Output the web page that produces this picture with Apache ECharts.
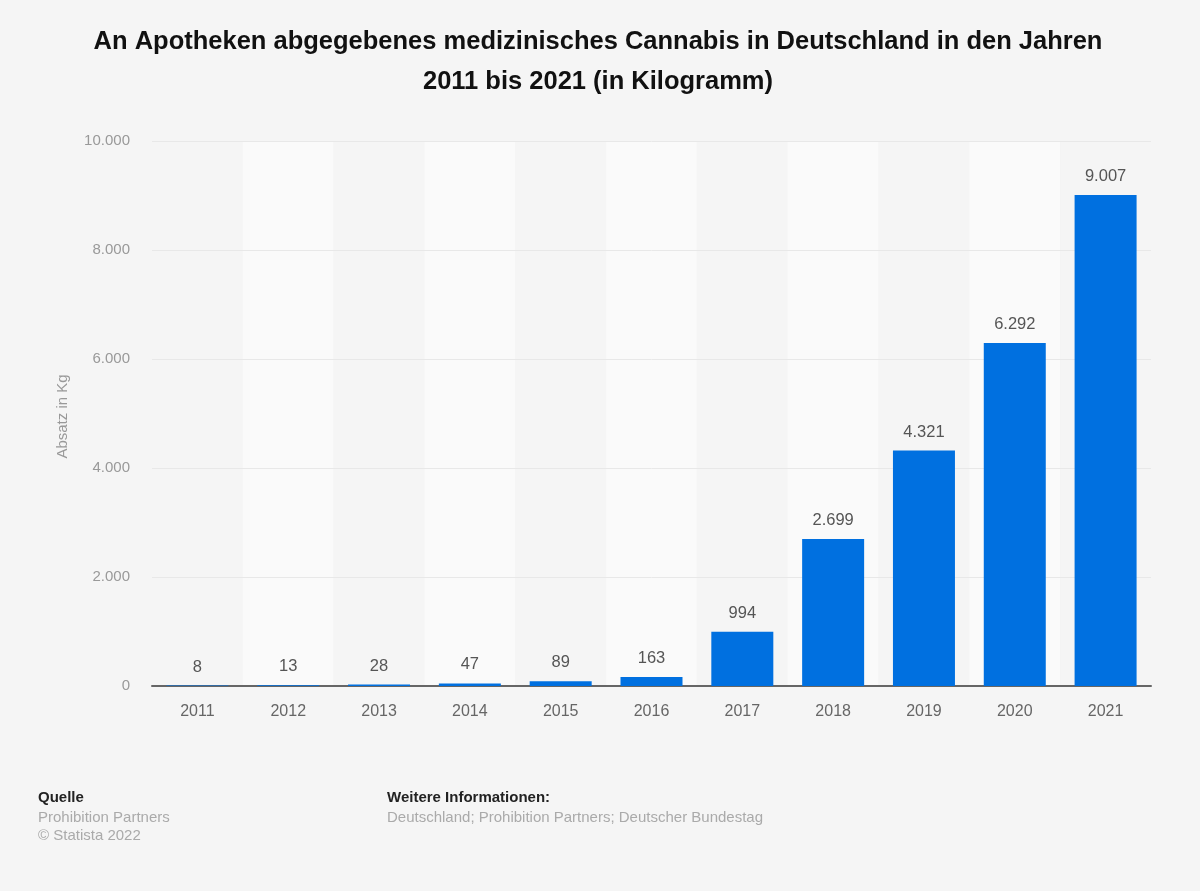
<!DOCTYPE html>
<html>
<head>
<meta charset="utf-8">
<script src="https://cdnjs.cloudflare.com/ajax/libs/echarts/6.0.0/echarts.min.js"></script>
<style>
html, body { margin: 0; padding: 0; background: #f5f5f5; }
#chart { width: 1200px; height: 891px; }
</style>
</head>
<body>
<div id="chart"></div>
<script>
var years = ['2011', '2012', '2013', '2014', '2015', '2016', '2017', '2018', '2019', '2020', '2021'];
var absatz = [8, 13, 28, 47, 89, 163, 994, 2699, 4321, 6292, 9007];
var yTicks = [0, 2000, 4000, 6000, 8000, 10000];

var font = '"Liberation Sans", Arial, sans-serif';

function punkt(v) {
    return String(v).replace(/\B(?=(\d{3})+$)/g, '.');
}

var myChart = echarts.init(document.getElementById('chart'));

var option = {
    backgroundColor: '#f5f5f5',
    animation: false,
    title: {
        text: 'An Apotheken abgegebenes medizinisches Cannabis in Deutschland in den Jahren\n2011 bis 2021 (in Kilogramm)',
        left: 593,
        top: 17,
        textAlign: 'center',
        textStyle: {
            fontFamily: font,
            fontSize: 25.5,
            fontWeight: 'bold',
            color: '#111',
            lineHeight: 40
        }
    },
    grid: { left: 152, right: 49, top: 141, bottom: 205 },
    xAxis: {
        type: 'category',
        data: years,
        axisTick: { show: false },
        axisLine: { lineStyle: { color: '#666', width: 2 } },
        axisLabel: { color: '#666', fontFamily: font, fontSize: 16, margin: 18 },
        splitArea: { show: true, areaStyle: { color: ['#f5f5f5', '#fafafa'] } }
    },
    yAxis: {
        type: 'value',
        z: 1,
        min: 0,
        max: yTicks[yTicks.length - 1],
        interval: 2000,
        name: 'Absatz in Kg',
        nameLocation: 'middle',
        nameGap: 82,
        nameTextStyle: { color: '#999', fontFamily: font, fontSize: 15, padding: [0, 6, 0, 0] },
        axisLine: { show: false },
        axisTick: { show: false },
        axisLabel: {
            color: '#999',
            fontFamily: font,
            fontSize: 15,
            margin: 22,
            formatter: punkt
        },
        splitLine: { showMinLine: false, lineStyle: { color: '#e8e8e8', width: 1 } }
    },
    series: [{
        type: 'bar',
        data: absatz,
        barWidth: 62,
        itemStyle: { color: '#0070e0' },
        label: {
            show: true,
            position: 'top',
            distance: 10,
            color: '#555',
            fontFamily: font,
            fontSize: 16.5,
            formatter: function (p) { return punkt(p.value); }
        }
    }],
    graphic: [
        { type: 'text', left: 38, top: 790, style: { text: 'Quelle', fill: '#222', font: 'bold 15px ' + font } },
        { type: 'text', left: 38, top: 810, style: { text: 'Prohibition Partners', fill: '#aaa', font: '15px ' + font } },
        { type: 'text', left: 38, top: 828, style: { text: '© Statista 2022', fill: '#aaa', font: '15px ' + font } },
        { type: 'text', left: 387, top: 790, style: { text: 'Weitere Informationen:', fill: '#222', font: 'bold 15px ' + font } },
        { type: 'text', left: 387, top: 810, style: { text: 'Deutschland; Prohibition Partners; Deutscher Bundestag', fill: '#aaa', font: '15px ' + font } }
    ]
};

myChart.setOption(option);
</script>
</body>
</html>
